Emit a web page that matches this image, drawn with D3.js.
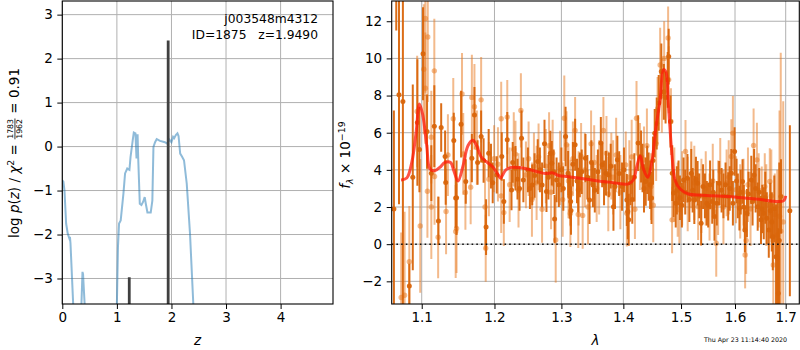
<!DOCTYPE html>
<html><head><meta charset="utf-8">
<script src="https://cdn.jsdelivr.net/npm/d3@7"></script>
<style>body{margin:0;background:#fff}text{font-family:"DejaVu Sans",sans-serif;fill:#000}</style>
</head><body><svg id="c" width="800" height="350"></svg>
<script>
// ---------- data: left panel ----------
const pzZ   = [0.00,0.02,0.04,0.07,0.10,0.13,0.14,0.15,0.20,0.22,0.33,0.35,0.37,0.38,0.41,0.43,0.98,1.00,1.02,1.04,1.07,1.12,1.15,1.19,1.23,1.25,1.29,1.31,1.34,1.36,1.37,1.38,1.39,1.42,1.45,1.48,1.51,1.53,1.56,1.62,1.65,1.67,1.70,1.73,1.79,1.88,1.92,1.96,2.00,2.03,2.05,2.08,2.11,2.13,2.16,2.19,2.23,2.28,2.34,2.40,2.43];
const pzLog = [-0.77,-0.80,-1.0,-1.75,-1.98,-2.09,-2.05,-2.2,-3.6,-6,-6,-3.6,-2.85,-2.9,-3.6,-6,-6,-3.6,-2.28,-1.75,-1.68,-1.07,-0.61,-0.5,-0.53,-0.24,0.14,0.32,0.3,-0.27,0.26,0.26,-0.23,-1.3,-1.33,-1.26,-1.15,-1.3,-1.5,-1.5,-1.23,-0.01,0.1,0.17,0.13,0.1,0.07,0.16,0.1,0.22,0.19,0.26,0.3,0.24,-0.16,-0.22,-0.31,-0.84,-1.98,-3.57,-6];
const peakZ = [1.227, 1.94];
const peakLog = [-2.97, 2.41];
const zTicks = [0,1,2,3,4];
const lnpTicks = [-3,-2,-1,0,1,2,3];
const idLine1 = "j003548m4312";
const idLine2 = "ID=1875   z=1.9490";
const chiNum = "1783", chiDen = "1962", chiVal = "0.91";

// ---------- data: right panel ----------
const lamTicks = [1.1,1.2,1.3,1.4,1.5,1.6,1.7];
const fluxTicks = [-2,0,2,4,6,8,10,12];
const darkLam = [1.064,1.067,1.0705,1.0755,1.0838,1.0883,1.0943,1.097,1.1017,1.107,1.1127,1.1167,1.1222,1.1259,1.1312,1.132,1.143,1.1456,1.1468,1.153,1.1595,1.168,1.1716,1.181,1.188,1.1917,1.2033,1.2105,1.2135,1.2185,1.2247,1.2305,1.2395,1.2422,1.2554,1.2637,1.2703,1.274,1.277,1.2852,1.2895,1.2925,1.3065,1.3105,1.313,1.3145,1.315,1.3215,1.3265,1.329,1.338,1.3445,1.35,1.3628,1.365,1.3712,1.376,1.3835,1.39,1.3978,1.4058,1.4075,1.409,1.425,1.430,1.438,1.443,1.448,1.4535,1.457,1.465,1.4725,1.4763,1.478,1.4813,1.4843,1.4866,1.4905,1.5045,1.5115,1.5185,1.524,1.53,1.5365,1.54,1.547,1.553,1.557,1.5612,1.57,1.578,1.587,1.593,1.5992,1.6085,1.6145,1.619,1.623,1.6315,1.637,1.644,1.6505,1.656,1.666,1.674,1.6805,1.6835,1.685,1.687,1.6905,1.7085,
  1.176,1.1845,1.195,1.1975,1.2265,1.2335,1.2365,1.249,1.252,1.259,1.267,1.280,1.283,1.288,1.296,1.300,1.303,1.318,1.3245,1.332,1.341,1.3475,1.353,1.358,1.368,1.379,1.386,1.393,1.401,1.412,1.415,1.4185,1.4325,1.435,1.4405,1.4455,1.4505,1.4605,1.4695,1.4925,1.4955,1.498,1.5015,1.5075,1.515,1.521,1.527,1.533,1.5435,1.5495,1.559,1.5655,1.5745,1.582,1.590,1.596,1.603,1.6055,1.611,1.617,1.626,1.634,1.640,1.647,1.653,1.659,1.662,1.669,1.672,1.677];
const darkFlux = [1.9,15.5,8.05,7.68,-2.25,3.6,6.55,5.1,10.25,6.06,3.82,6.35,1.25,6.28,4.72,3.32,5.58,2.48,2.5,6.46,3.37,4.63,6.96,5.8,0.92,4.9,3.73,4.72,2.3,5.62,2.92,4.09,5.7,3.46,3.19,4.45,3.19,5.4,2.83,4.36,1.35,3.46,5.8,3.82,2.57,2.3,1.81,5.35,2.92,3.73,4.63,2.38,3.19,5.44,4.27,3.82,3.73,2.02,4.54,3.1,2.38,1.76,1.31,5.44,4.72,3.37,3.64,2.48,5.97,6.5,9.3,7.9,8.85,10.1,6.6,3.82,2.75,2.2,3.46,3.55,3.82,2.38,3.28,1.13,3.1,2.2,3.2,2.3,1.49,3.28,2.6,2.57,3.82,4.99,1.94,3.37,0.77,1.67,3.46,3.73,2.02,1.31,1.67,0.77,0.4,-0.67,-0.75,-2.64,0.2,2.57,1.8,
  4.4,4.5,4.2,3.3,4.4,3.5,3.0,4.0,3.0,3.7,4.0,3.6,4.9,3.9,3.2,4.0,3.0,4.3,3.4,3.9,3.6,4.4,2.9,3.9,3.3,4.2,3.1,3.8,4.0,3.3,2.4,3.6,4.1,3.0,4.0,3.2,4.5,7.6,8.2,2.9,3.3,2.5,2.1,2.8,2.4,2.9,3.5,2.6,2.6,2.1,2.8,2.2,2.9,3.2,3.0,2.2,3.4,2.6,2.8,2.0,2.7,2.3,3.0,2.8,1.9,2.5,1.4,1.8,1.2,1.9];
const darkErr = [5.3,4.0,5.9,11.5,1.2,5.0,3.4,2.3,2.5,2.0,1.5,2.2,1.3,1.3,1.4,1.2,1.5,1.6,2.0,1.8,1.2,1.3,1.5,1.4,1.5,1.3,1.0,1.3,1.2,1.5,1.1,1.2,1.5,1.2,1.1,1.2,1.2,1.3,1.1,1.2,1.3,1.2,1.6,1.2,1.2,1.3,1.3,1.4,1.2,1.2,1.3,1.3,1.2,1.4,1.2,1.2,1.2,1.3,1.3,1.3,1.4,1.5,1.4,1.5,1.4,1.3,1.3,1.4,1.3,1.4,1.5,1.4,1.5,1.5,1.4,1.5,1.3,1.3,1.2,1.3,1.3,1.3,1.2,1.2,1.2,1.2,1.3,1.2,1.3,1.2,1.2,1.3,1.3,1.3,1.2,1.2,1.2,1.3,1.3,1.4,1.3,1.3,1.4,1.5,1.8,2.8,3.0,3.5,4.2,2.0,4.6,
  1.2,1.2,1.2,1.1,1.1,1.1,1.2,1.2,1.1,1.2,1.2,1.2,1.2,1.2,1.2,1.2,1.2,1.2,1.2,1.2,1.2,1.2,1.2,1.2,1.2,1.2,1.2,1.2,1.2,1.2,1.3,1.3,1.3,1.3,1.3,1.3,1.3,1.5,1.5,1.3,1.2,1.2,1.2,1.2,1.2,1.2,1.2,1.2,1.2,1.2,1.2,1.2,1.2,1.2,1.2,1.2,1.2,1.2,1.2,1.2,1.2,1.3,1.3,1.3,1.3,1.4,1.4,1.5,1.6,1.8];
const lightLam = [1.0733,1.0777,1.0838,1.094,1.098,1.1027,1.1048,1.1048,1.1075,1.108,1.1127,1.1127,1.117,1.1167,1.1218,1.1325,1.135,1.1423,1.1456,1.1468,1.1543,1.156,1.159,1.1663,1.168,1.1716,1.181,1.1865,1.1875,1.1995,1.2097,1.2097,1.2135,1.2185,1.2305,1.2385,1.246,1.258,1.265,1.2703,1.281,1.2865,1.2912,1.3045,1.308,1.3145,1.314,1.3215,1.3265,1.331,1.3335,1.347,1.356,1.367,1.380,1.404,1.4058,1.4195,1.4222,1.428,1.435,1.447,1.4585,1.463,1.477,1.478,1.482,1.484,1.497,1.508,1.5185,1.531,1.552,1.5645,1.572,1.584,1.593,1.596,1.602,1.6165,1.6195,1.6215,1.636,1.6425,1.652,1.658,1.668,1.675,1.678,1.6875,1.690,
  1.175,1.192,1.205,1.222,1.228,1.235,1.25,1.255,1.262,1.276,1.284,1.298,1.302,1.311,1.318,1.327,1.337,1.342,1.352,1.36,1.372,1.375,1.383,1.388,1.395,1.41,1.414,1.44,1.451,1.456,1.466,1.47,1.488,1.494,1.502,1.512,1.524,1.537,1.545,1.558,1.568,1.578,1.588,1.61,1.625,1.63,1.646,1.661,1.671,1.683,1.695];
const lightFlux = [-2.87,-2.75,-0.94,7.14,0.98,9.42,12.15,8.4,2.85,11.15,5.76,2.0,3.64,9.33,0.37,1.76,4.8,6.75,0.68,0.85,8.09,4.86,2.78,3.07,7.9,7.4,7.77,2.0,-0.22,4.6,6.75,2.6,1.7,6.84,4.85,7.2,3.73,4.2,4.7,1.88,5.3,4.9,0.23,6.78,5.35,2.75,1.65,6.12,1.6,4.72,1.55,5.4,3.0,6.12,4.2,4.27,1.67,1.88,6.78,4.72,4.54,3.1,7.2,9.65,11.1,8.85,6.6,1.31,1.85,4.99,3.73,2.02,2.0,0.05,3.91,3.3,4.72,5.98,2.93,2.8,-0.58,0.2,5.31,4.54,2.38,3.1,3.37,-1.12,1.6,1.5,0.7,
  5.2,3.5,4.3,3.2,5.1,2.9,4.6,2.4,3.3,4.2,2.8,4.1,2.4,3.4,4.6,3.0,4.0,2.0,4.4,3.6,4.9,2.7,3.6,4.8,2.8,3.6,4.7,5.3,2.1,5.4,8.0,10.0,3.2,2.4,3.0,2.7,3.3,2.6,3.0,3.4,2.5,2.0,3.6,2.3,3.2,1.9,2.9,2.1,2.6,0.5,1.2];
const lightErr = [3.5,4.5,3.0,3.0,3.6,3.5,4.0,3.0,2.5,3.5,2.5,2.8,2.6,2.8,2.2,2.3,2.2,2.2,2.5,2.4,2.2,2.2,2.0,2.0,2.3,2.3,2.3,2.3,1.8,1.8,2.0,2.0,1.8,2.0,1.8,2.0,1.8,1.8,1.8,1.8,1.8,1.8,2.3,2.3,1.8,1.8,1.8,1.8,1.8,1.8,1.8,1.8,1.8,1.8,1.8,1.8,1.8,1.6,2.0,1.8,1.8,1.8,1.8,2.0,1.7,1.8,1.8,1.8,1.8,1.7,1.8,1.8,1.8,1.8,1.8,1.8,2.0,2.0,1.8,1.8,1.8,1.8,2.0,2.0,1.8,1.8,1.8,2.5,2.2,5.7,9.6,
  2.0,2.0,2.0,2.0,2.0,2.0,2.0,2.0,2.0,2.0,2.0,2.0,2.0,2.0,2.0,2.0,2.0,2.0,2.0,2.0,2.0,2.0,2.0,2.0,2.0,2.0,2.0,2.0,2.0,2.0,2.0,2.0,2.0,2.0,2.0,2.0,2.0,2.0,2.0,2.0,2.0,2.0,2.0,2.0,2.0,2.0,2.0,2.2,2.5,3.5,6.5];
const modelLam = [1.0731,1.0805,1.087,1.0926,1.097,1.1014,1.1066,1.111,1.1176,1.1242,1.131,1.1386,1.143,1.1488,1.1556,1.1625,1.1694,1.1741,1.181,1.188,1.1974,1.2068,1.2087,1.2165,1.226,1.2405,1.2604,1.2754,1.2855,1.2957,1.3113,1.3429,1.3755,1.4088,1.4172,1.4228,1.4285,1.4341,1.4415,1.4484,1.4553,1.463,1.4688,1.4728,1.4776,1.4835,1.4896,1.4985,1.5134,1.5377,1.5878,1.64,1.6955,1.7];
const modelFlux = [3.46,3.56,4.4,6.0,7.55,6.95,5.3,4.05,3.96,4.14,4.4,4.4,3.96,3.4,4.2,5.3,5.6,5.35,4.7,4.45,4.17,3.64,3.55,4.0,4.14,4.1,3.93,3.8,3.84,3.7,3.63,3.48,3.34,3.25,3.48,4.2,4.75,4.05,3.6,4.4,6.2,7.8,9.4,9.3,7.45,4.95,3.42,2.97,2.7,2.64,2.57,2.43,2.34,2.6];
const stamp = "Thu Apr 23 11:14:40 2020";

// ---------- drawing ----------
const svg = d3.select('#c');
const FS = 13.5;
const L = {x0:62.3, x1:333, y0:1, y1:304};
const R = {x0:391.7, x1:799.3, y0:1, y1:304};

const xL = d3.scaleLinear().domain([0,4.96]).range([L.x0,L.x1]);
const yL = d3.scaleLinear().domain([-3.58,3.31]).range([L.y1,L.y0]);
const xR = d3.scaleLog().domain([1.0612,1.7279]).range([R.x0,R.x1]);
const yR = d3.scaleLinear().domain([-3.22,13.09]).range([R.y1,R.y0]);

const defs = svg.append('defs');
defs.append('clipPath').attr('id','clipL').append('rect').attr('x',L.x0).attr('y',L.y0).attr('width',L.x1-L.x0).attr('height',L.y1-L.y0);
defs.append('clipPath').attr('id','clipR').append('rect').attr('x',R.x0).attr('y',R.y0).attr('width',R.x1-R.x0).attr('height',R.y1-R.y0);

function grid(P, xs, ys, xt, yt){
  const g = svg.append('g').attr('stroke','#b0b0b0').attr('stroke-width',1);
  g.selectAll('.gx').data(xt).join('line').attr('x1',d=>xs(d)).attr('x2',d=>xs(d)).attr('y1',P.y0).attr('y2',P.y1);
  g.selectAll('.gy').data(yt).join('line').attr('y1',d=>ys(d)).attr('y2',d=>ys(d)).attr('x1',P.x0).attr('x2',P.x1);
}
grid(L,xL,yL,zTicks,lnpTicks);
grid(R,xR,yR,lamTicks,fluxTicks);

// left panel content
const gL = svg.append('g').attr('clip-path','url(#clipL)');
gL.append('path').datum(pzZ.map((z,i)=>[z,pzLog[i]]))
  .attr('d',d3.line().x(d=>xL(d[0])).y(d=>yL(d[1])))
  .attr('fill','none').attr('stroke','#1f77b4').attr('stroke-opacity',0.5).attr('stroke-width',2);
gL.selectAll('.pk').data(peakZ).join('line')
  .attr('x1',d=>xL(d)).attr('x2',d=>xL(d)).attr('y1',yL(-3.58)+2).attr('y2',(d,i)=>yL(peakLog[i]))
  .attr('stroke','#404040').attr('stroke-width',2.8);

svg.append('text').attr('x',318).attr('y',23).attr('text-anchor','end').attr('font-size',12.3).text(idLine1);
svg.append('text').attr('x',318).attr('y',39).attr('text-anchor','end').attr('font-size',12.3).style('white-space','pre').text(idLine2);

// right panel content
const gR = svg.append('g').attr('clip-path','url(#clipR)');
function errs(lam, flux, err, col, op, r){
  const g = gR.append('g');
  g.selectAll('line').data(lam).join('line')
    .attr('x1',d=>xR(d)).attr('x2',d=>xR(d))
    .attr('y1',(d,i)=>yR(flux[i]-err[i])).attr('y2',(d,i)=>yR(flux[i]+err[i]))
    .attr('stroke',col).attr('stroke-opacity',op).attr('stroke-width',2);
  g.selectAll('circle').data(lam).join('circle')
    .attr('cx',d=>xR(d)).attr('cy',(d,i)=>yR(flux[i])).attr('r',r)
    .attr('fill',col).attr('fill-opacity',op);
}
errs(lightLam, lightFlux, lightErr, '#e8751a', 0.5, 2.7);
errs(darkLam, darkFlux, darkErr, '#d9650b', 0.95, 2.5);
gR.append('line').attr('x1',R.x0).attr('x2',R.x1).attr('y1',yR(0)).attr('y2',yR(0))
  .attr('stroke','#111').attr('stroke-width',1.6).attr('stroke-dasharray','1.6,3.1');
gR.append('path').datum(modelLam.map((l,i)=>[l,modelFlux[i]]))
  .attr('d',d3.line().curve(d3.curveCatmullRom).x(d=>xR(d[0])).y(d=>yR(d[1])))
  .attr('fill','none').attr('stroke','#ff1a0a').attr('stroke-opacity',0.75).attr('stroke-width',3);

// axes
function axes(P, xs, ys, xt, yt, xfmt, yfmt){
  const ax = svg.append('g').attr('transform',`translate(0,${P.y1})`)
    .call(d3.axisBottom(xs).tickValues(xt).tickFormat(xfmt).tickSize(5).tickPadding(3.5).tickSizeOuter(0));
  const ay = svg.append('g').attr('transform',`translate(${P.x0},0)`)
    .call(d3.axisLeft(ys).tickValues(yt).tickFormat(yfmt).tickSize(5).tickPadding(4.5).tickSizeOuter(0));
  [ax,ay].forEach(a=>{a.select('.domain').remove(); a.selectAll('text').attr('font-size',FS).attr('font-family','DejaVu Sans').attr('fill','#000');
    a.selectAll('line').attr('stroke','#000').attr('stroke-width',1);});
  svg.append('rect').attr('x',P.x0).attr('y',P.y0).attr('width',P.x1-P.x0).attr('height',P.y1-P.y0)
    .attr('fill','none').attr('stroke','#000').attr('stroke-width',1.1);
}
const minus = d=>String(d).replace('-','\u2212');
axes(L,xL,yL,zTicks,lnpTicks,d=>d,minus);
axes(R,xR,yR,lamTicks,fluxTicks,d=>d.toFixed(1),minus);

// x labels
svg.append('text').attr('x',(L.x0+L.x1)/2).attr('y',345).attr('text-anchor','middle').attr('font-size',FS).attr('font-style','italic').text('z');
svg.append('text').attr('x',(R.x0+R.x1)/2).attr('y',345).attr('text-anchor','middle').attr('font-size',FS).attr('font-style','italic').text('λ');
svg.append('text').attr('x',787).attr('y',342).attr('text-anchor','end').attr('font-size',6.3).text(stamp);

// left y label (mathtext-like)
(function(){
  const g = svg.append('g').attr('transform','translate(19,0) rotate(-90)');
  const fs = FS, ffs = 7.8;
  const t = g.append('text').attr('font-size',fs).attr('y',0).style('white-space','pre');
  t.append('tspan').text('log ');
  t.append('tspan').attr('font-style','italic').text('p');
  t.append('tspan').text('(');
  t.append('tspan').attr('font-style','italic').text('z');
  t.append('tspan').text(') / ');
  t.append('tspan').attr('font-style','italic').text('χ');
  t.append('tspan').attr('font-size',fs*0.7).attr('dy',-5.5).text('2');
  t.append('tspan').attr('dy',5.5).text(' = ');
  const w1 = t.node().getComputedTextLength();
  const num = g.append('text').attr('font-size',ffs).attr('text-anchor','middle').text(chiNum);
  const den = g.append('text').attr('font-size',ffs).attr('text-anchor','middle').text(chiDen);
  const fw = Math.max(num.node().getComputedTextLength(), den.node().getComputedTextLength()) + 2;
  const t2 = g.append('text').attr('font-size',fs).style('white-space','pre').text(' = ' + chiVal);
  const w2 = t2.node().getComputedTextLength();
  const total = w1 + fw + w2;
  const s = -153 - total/2;
  t.attr('x', s);
  const axis = -0.3*fs;
  num.attr('x', s + w1 + fw/2).attr('y', axis - 1.6);
  den.attr('x', s + w1 + fw/2).attr('y', axis + 1.6 + 0.73*ffs);
  g.append('line').attr('x1', s+w1+0.5).attr('x2', s+w1+fw-0.5).attr('y1',axis).attr('y2',axis).attr('stroke','#000').attr('stroke-width',0.8);
  t2.attr('x', s + w1 + fw);
})();

// right y label
(function(){
  const g = svg.append('g').attr('transform','translate(350,0) rotate(-90)');
  const fs = FS;
  const t = g.append('text').attr('font-size',fs).style('white-space','pre');
  t.append('tspan').attr('font-style','italic').text('f');
  t.append('tspan').attr('font-size',fs*0.7).attr('dy',3).attr('font-style','italic').text('λ');
  t.append('tspan').attr('dy',-3).text(' × 10');
  t.append('tspan').attr('font-size',fs*0.7).attr('dy',-5.5).text('\u221219');
  const w = t.node().getComputedTextLength();
  t.attr('x', -155 - w/2);
})();
</script></body></html>
